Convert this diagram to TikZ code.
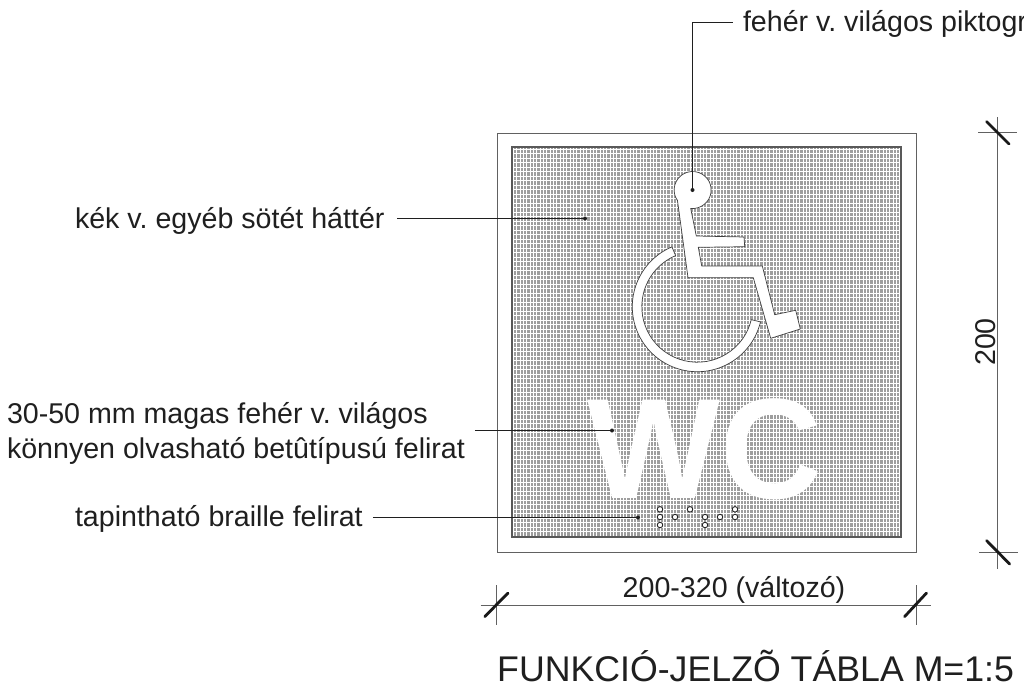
\documentclass[tikz,border=0pt]{standalone}
\usepackage{fontspec}
\setmainfont{Liberation Sans}
\frenchspacing
\definecolor{gridbase}{gray}{0.62}
\definecolor{linegray}{gray}{0.38}
\definecolor{inkc}{gray}{0.12}
\tikzset{
  lbl/.style={inner sep=0pt,outer sep=0pt,text=inkc,font=\fontsize{28.6}{35}\selectfont},
  leader/.style={draw=inkc,line width=1pt},
  dotend/.style={circle,fill=inkc,inner sep=0pt,minimum size=4pt},
  dimline/.style={draw=linegray,line width=1pt},
  slash/.style={draw=black!90,line width=2.8pt,line cap=round},
  brailledot/.style={circle,draw=black!85,fill=white,line width=0.9pt,inner sep=0pt,minimum size=5.5pt},
  pict/.style={fill=white,draw=black!75,line width=0.7pt,line join=round}
}
\begin{document}
\begin{tikzpicture}[x=1pt,y=-1pt]
\useasboundingbox (0,0) rectangle (1024,686);
\clip (0,0) rectangle (1024,686);
% frame
\node[draw=linegray,line width=1.3pt,minimum width=419pt,minimum height=419pt,inner sep=0pt,anchor=north west] (frame) at (497,132.5) {};
% grid panel
\fill[gridbase] (512,147) rectangle (901,537);
\foreach \i in {0,...,116} {\draw[white,line width=0.9pt] ({513.5+\i*3.33},147) -- ({513.5+\i*3.33},537);}
\foreach \i in {0,...,86} {\draw[white,line width=0.9pt] (512,{149+\i*4.5}) -- (901,{149+\i*4.5});}
\draw[black!65,line width=1.1pt] (512,147) rectangle (901,537);
% wheelchair
\path[pict] (677.4,200) -- (688,277.7) -- (753.3,277.7) -- (770.7,338.3) -- (800.3,329) -- (795.7,310.3) -- (774.7,314.7) -- (762.3,266) -- (701.7,266) -- (698.3,247.3) -- (744.7,246.7) -- (744,237) -- (696.3,236) -- (690.7,208.4)
  arc[start angle=96,end angle=-213,radius=18.5] -- cycle;
\path[pict] (697.3,306.7) ++(-113:65) arc[start angle=-113,end angle=-346.5,radius=65] -- ++(-166.5:9.5) arc[start angle=-346.5,end angle=-113,radius=55.5] -- cycle;
% WC
\node[inner sep=0pt,anchor=base west,text=white,xscale=0.985,font=\fontsize{143}{143}\selectfont\bfseries] (wc) at (587,498) {WC};
% braille
\foreach \n/\a/\b in {b1/120/58,b2/120/81,b3/120/105,b4/165/81,b5/210/58,b6/255/81,b7/255/105,b8/300/81,b9/345/58,b10/345/81}
  {\node[brailledot] (\n) at ({620+\a/3},{490+\b/3}) {};}
% labels
\node[lbl,anchor=base west] (ltop) at (743,31) {fehér v. világos piktogr};
\node[lbl,anchor=base west] (lbg) at (75,228) {kék v. egyéb sötét háttér};
\node[lbl,anchor=west,align=left] (lwc) at (7,433) {30-50 mm magas fehér v. világos\\könnyen olvasható betûtípusú felirat};
\node[lbl,anchor=base west] (lbr) at (75,526) {tapintható braille felirat};
\node[lbl,anchor=base] (lw) at (734,597) {200-320 (változó)};
\node[lbl,anchor=center,rotate=90] (lh) at (986,342) {200};
\node[inner sep=0pt,anchor=base west,text=inkc,font=\fontsize{35.7}{36}\selectfont] (title) at (497,681) {FUNKCIÓ-JELZÕ TÁBLA M=1:5};
% leaders
\coordinate (ptop) at (692.5,190);
\coordinate (pbg) at (585,218.5);
\coordinate (pwc) at (612,430.5);
\coordinate (pbr) at (638,517.5);
\coordinate (kneetop) at (692.5,22.5);
\coordinate (endtop) at (733,22.5);
\node[dotend] at (ptop) {};
\node[dotend] at (pbg) {};
\node[dotend] at (pwc) {};
\node[dotend] at (pbr) {};
\draw[leader] (ptop) -- (kneetop) -- (endtop);
\draw[leader] ([xshift=13pt]lbg.east |- pbg) -- (pbg);
\draw[leader] ([xshift=10pt]lwc.east |- pwc) -- (pwc);
\draw[leader] ([xshift=10pt]lbr.east |- pbr) -- (pbr);
% dimensions
\coordinate (hl) at (480.5,605); \coordinate (hr) at (931,605);
\coordinate (t1a) at (496.5,585); \coordinate (t1b) at (496.5,625);
\coordinate (t2a) at (916,585); \coordinate (t2b) at (916,625);
\draw[dimline] (hl) -- (hr);
\draw[dimline] (t1a) -- (t1b);
\draw[dimline] (t2a) -- (t2b);
\coordinate (vt) at (997.7,117); \coordinate (vb) at (997.7,569);
\coordinate (h1a) at (978,132.7); \coordinate (h1b) at (1017,132.7);
\coordinate (h2a) at (979,552); \coordinate (h2b) at (1018,552);
\draw[dimline] (vt) -- (vb);
\draw[dimline] (h1a) -- (h1b);
\draw[dimline] (h2a) -- (h2b);
\coordinate (s1a) at (484.8,616.6); \coordinate (s1b) at (508,593);
\coordinate (s2a) at (904.6,616.6); \coordinate (s2b) at (926.5,593);
\coordinate (s3a) at (986.7,121.7); \coordinate (s3b) at (1009,144);
\coordinate (s4a) at (986.6,540.6); \coordinate (s4b) at (1009.6,564);
\draw[slash] (s1a) -- (s1b);
\draw[slash] (s2a) -- (s2b);
\draw[slash] (s3a) -- (s3b);
\draw[slash] (s4a) -- (s4b);
\end{tikzpicture}
\end{document}
